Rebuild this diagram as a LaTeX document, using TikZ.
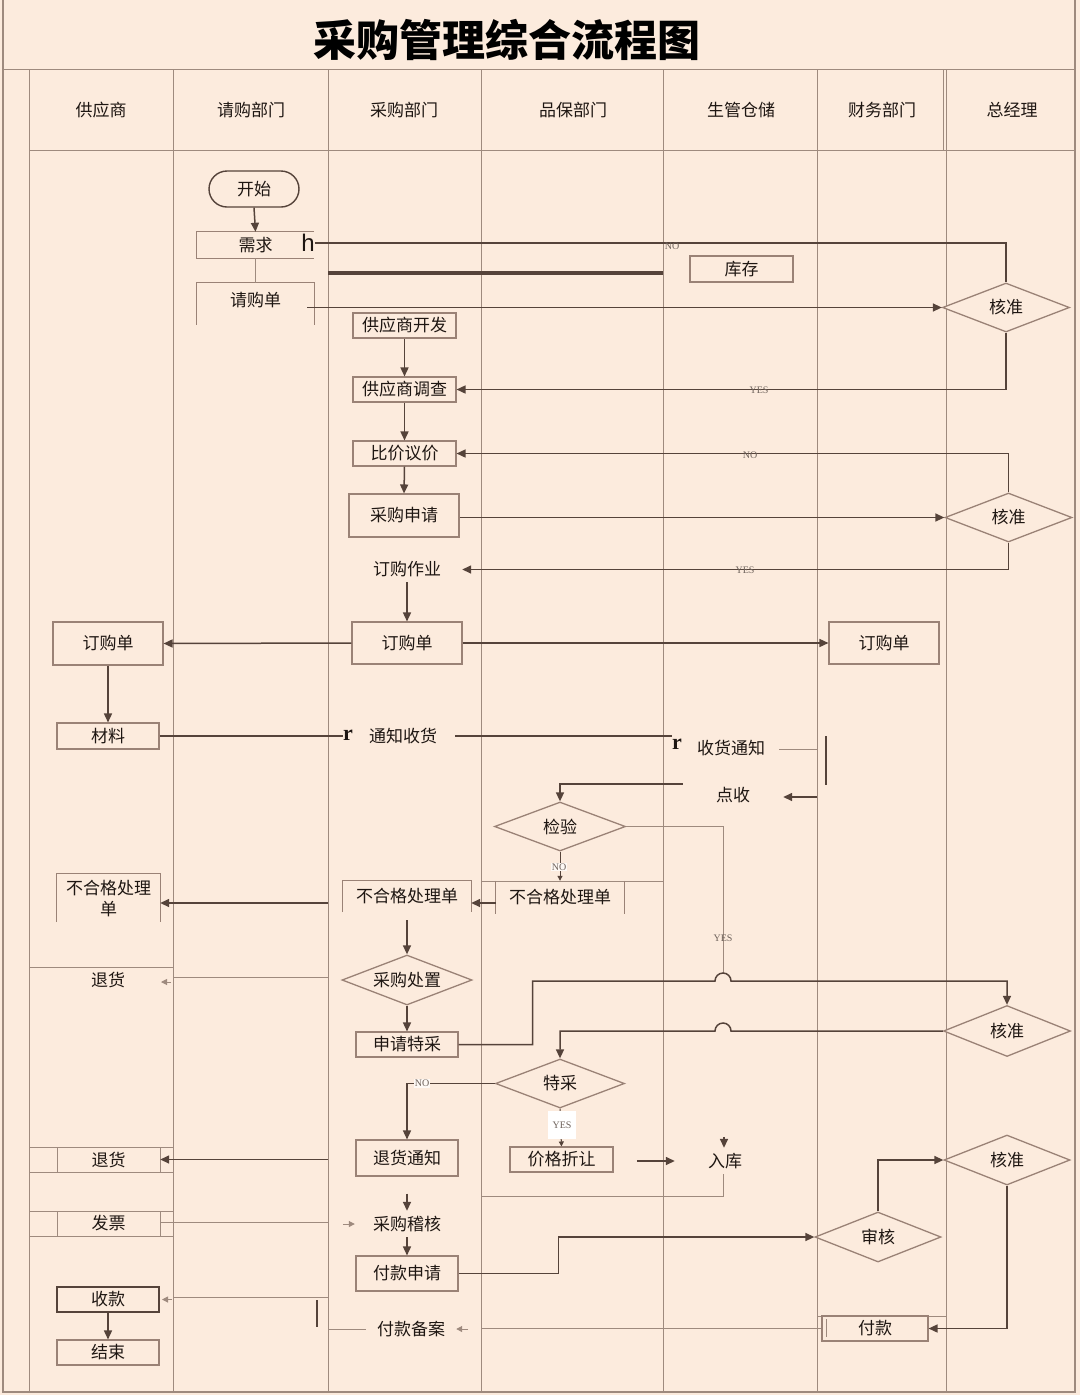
\documentclass[tikz,border=0pt]{standalone}
\usepackage{fontspec}
\setmainfont{Liberation Serif}
\newfontfamily\cjk{Noto Sans CJK SC}
\newfontfamily\sansf{Liberation Sans}
\usetikzlibrary{arrows.meta,shapes.geometric,calc}
\definecolor{bgc}{HTML}{FCEBDD}
\definecolor{lanec}{HTML}{9E8A7E}
\definecolor{linec}{HTML}{55433A}
\definecolor{boxc}{HTML}{9A8276}
\definecolor{txtc}{HTML}{1E1612}
\definecolor{lblc}{HTML}{6E625B}
\newcommand\cnf{\cjk\fontsize{17}{20}\selectfont}
\newcommand\titlef{\cjk\bfseries\fontsize{43}{48}\selectfont}
\newcommand\lblf{\fontsize{10}{11}\selectfont}
\newcommand\tickf{\bfseries\fontsize{22}{24}\selectfont}
\newcommand\hf{\sansf\fontsize{24}{26}\selectfont}
\tikzset{
  laneline/.style={draw=lanec, line width=1pt},
  conn/.style={draw=linec, line width=1.5pt},
  arr/.style={conn, -{Triangle[length=9pt,width=8pt]}},
  arrs/.style={draw=lanec, line width=1pt, -{Triangle[length=6pt,width=6pt]}},
  arrd/.style={draw=linec, line width=1pt, -{Triangle[length=5pt,width=5pt]}},
  boxline/.style={draw=boxc, line width=1.1pt},
  tx/.style={font=\cnf, text=txtc, inner sep=0pt},
  box/.style={tx, draw=boxc, fill=bgc, line width=1.1pt, rectangle},
  dia/.style={tx, draw=boxc, fill=bgc, line width=1.3pt, diamond, aspect=2.6, minimum width=127pt, minimum height=50pt},
  lbl/.style={font=\lblf, text=lblc, inner sep=1pt},
  tickst/.style={font=\tickf, text=txtc, inner sep=0pt},
}
\begin{document}
\begin{tikzpicture}[x=1pt,y=-1pt]
\useasboundingbox (0,0) rectangle (1080,1395);
\fill[bgc] (0,0) rectangle (1080,1395);

% frame and lanes
\draw[laneline, line width=1.6pt] (3,0) -- (3,1392) -- (1075,1392) -- (1075,0);
\draw[laneline] (3,69) -- (1075,69);
\draw[laneline] (29,150) -- (1075,150);
\foreach \x in {29,173,328,481,663,817,946} \draw[laneline] (\x,69) -- (\x,1392);
\draw[laneline] (943,69) -- (943,150);
\draw[laneline] (29,967) -- (173,967);
\draw[laneline] (29,1147) -- (173,1147);
\draw[laneline] (29,1172) -- (173,1172);
\draw[laneline] (57,1147) -- (57,1172);
\draw[laneline] (160,1147) -- (160,1172);
\draw[laneline] (29,1211) -- (173,1211);
\draw[laneline] (29,1236) -- (173,1236);
\draw[laneline] (57,1211) -- (57,1236);
\draw[laneline] (160,1211) -- (160,1236);

% title and headers
\node[font=\titlef, text=black, inner sep=0pt] (title) at (507,40) {采购管理综合流程图};
\node[tx] (h1) at (101,110) {供应商};
\node[tx] (h2) at (251,110) {请购部门};
\node[tx] (h3) at (404,110) {采购部门};
\node[tx] (h4) at (573,110) {品保部门};
\node[tx] (h5) at (741,110) {生管仓储};
\node[tx] (h6) at (882,110) {财务部门};
\node[tx] (h7) at (1012,110) {总经理};

% requesting department
\node[tx, draw=linec, fill=bgc, line width=1.4pt, rounded corners=18pt, minimum width=90pt, minimum height=36pt] (start) at (254,189) {开始};
\node[tx, minimum width=117pt, minimum height=26pt] (need) at (255.5,245) {需求};
\draw[boxline] (need.north east) -- (need.north west) -- (need.south west) -- (need.south east);
\node[font=\hf, text=txtc, inner sep=0pt] (hmark) at (308,243) {h};
\node[tx, minimum width=117pt, minimum height=34pt] (req) at (255.5,300) {请购单};
\draw[boxline] (req.north west) ++(0,42) -- (req.north west) -- (req.north east) -- ++(0,42);
\draw[arr] (start.south) -- (need.north);
\draw[laneline] (need.south) -- (req.north);

\draw[line width=4pt, draw=linec] (328,273) -- (663,273);
\node[box, minimum width=103pt, minimum height=26pt] (stock) at (741.5,269) {库存};

\node[dia, minimum height=49pt] (ok1) at (1006,307.5) {核准};
\draw[conn] (hmark.east) -| (ok1.north);
\node[lbl] (no1) at (672,246) {NO};
\draw[arr] ($(req.east |- ok1.west)+(-7,0)$) -- (ok1.west);

% purchasing department
\node[box, minimum width=103pt, minimum height=25pt] (sdev) at (404.5,325.5) {供应商开发};
\node[box, minimum width=103pt, minimum height=25pt] (sinv) at (404.5,389.5) {供应商调查};
\node[box, minimum width=103pt, minimum height=25pt] (cmp) at (404.5,453.5) {比价议价};
\node[box, minimum width=110pt, minimum height=43pt] (papp) at (404,515.5) {采购申请};
\draw[arr] (sdev.south) -- (sinv.north);
\draw[arr] (sinv.south) -- (cmp.north);
\draw[arr] (cmp.south) -- (papp.north);
\draw[arr] (ok1.south) |- (sinv.east);
\node[lbl] (yes1) at (759,390) {YES};

\node[dia, minimum height=49pt] (ok2) at (1008.5,517.5) {核准};
\draw[arr] (ok2.north) |- (cmp.east);
\node[lbl] (no2) at (750,455) {NO};
\draw[arr] (papp.east |- ok2.west) -- (ok2.west);
\node[tx, minimum width=110pt, minimum height=25pt] (ordop) at (407,569.5) {订购作业};
\draw[arr] (ok2.south) |- (ordop.east);
\node[lbl] (yes2) at (745,570) {YES};

\node[box, minimum width=110pt, minimum height=42pt] (po) at (407,643) {订购单};
\node[box, minimum width=110pt, minimum height=43pt] (spo) at (108,643.5) {订购单};
\node[box, minimum width=110pt, minimum height=42pt] (fpo) at (884,643) {订购单};
\draw[arr] (ordop.south) -- (po.north);
\draw[arr] (po.west) -- (spo.east);
\draw[arr] (po.east) -- (fpo.west);
\node[box, minimum width=102pt, minimum height=26pt] (mat) at (108,736) {材料};
\draw[arr] (spo.south) -- (mat.north);

% receiving
\node[tickst] (tick1) at (348,735) {r};
\node[tickst] (tick2) at (677,744) {r};
\node[tx, minimum width=104pt, minimum height=24pt] (notify) at (403,736) {通知收货};
\draw[conn] (mat.east) -- (mat.east -| tick1.west);
\draw[conn] (notify.east) -- (notify.east -| tick2.west);
\node[tx, minimum width=96pt, minimum height=22pt] (rcvn) at (731,748) {收货通知};
\coordinate (f1) at (817,749);
\draw[laneline] (rcvn.east |- f1) -- (f1);
\coordinate (vb1) at (826,736);
\coordinate (vb2) at (826,785);
\draw[conn] (vb1) -- (vb2);
\node[tx, minimum width=100pt, minimum height=22pt] (chk) at (733,795) {点收};
\coordinate (f2) at (817,797);
\draw[arr] (f2) -- (chk.east |- f2);

\node[dia, minimum width=131pt, minimum height=49pt] (insp) at (560,826.5) {检验};
\draw[arr] (chk.north west) -| (insp.north);

\coordinate (q1) at (481,881);
\coordinate (q2) at (663,881);
\draw[laneline] (q1) -- (q2);
\node[tx, minimum width=128pt, minimum height=33pt] (qnc) at (560,897.5) {不合格处理单};
\draw[boxline] (qnc.north west) -- (qnc.south west);
\draw[boxline] (qnc.north east) -- (qnc.south east);
\draw[arrd] (insp.south) -- (qnc.north);
\node[lbl, fill=white!70!bgc] (no3) at (559,867) {NO};

\coordinate (yj) at (723,973);
\draw[laneline] (insp.east) -| (yj);
\node[lbl] (yes3) at (723,938) {YES};

\node[tx, minimum width=128pt, minimum height=31pt] (pnc) at (407,896.5) {不合格处理单};
\draw[boxline] (pnc.south west) -- (pnc.north west) -- (pnc.north east) -- (pnc.south east);
\draw[arr] ($(qnc.west)+(0,5.5)$) -- ($(pnc.east)+(0,6.5)$);

\node[tx, minimum width=103pt, minimum height=48pt, align=center] (snc) at (108.5,898) {不合格处理\\[1pt]单};
\draw[boxline] (snc.south west) -- (snc.north west) -- (snc.north east) -- (snc.south east);
\coordinate (p3) at (328,903);
\draw[arr] (p3) -- (snc.east |- p3);

\node[dia, minimum width=130pt, minimum height=50pt] (pdisp) at (407,980) {采购处置};
\draw[arr] ($(pnc.south)+(0,8)$) -- (pdisp.north);

\node[tx] (ret1) at (108,980) {退货};
\coordinate (p4) at (328,977);
\coordinate (p5) at (173,977);
\draw[laneline] (p4) -- (p5);
\coordinate (t1a) at (171,982);
\coordinate (t1b) at (161,982);
\draw[arrs] (t1a) -- (t1b);

\node[box, minimum width=102pt, minimum height=25pt] (spec) at (407,1044.5) {申请特采};
\draw[arr] (pdisp.south) -- (spec.north);

\coordinate (j1) at (723,981);
\coordinate (j2) at (723,1031);
\node[dia, minimum height=51pt] (ok3) at (1007,1031) {核准};
\node[dia, minimum width=129pt, minimum height=49pt] (tc) at (560,1083.5) {特采};
\draw[arr] (spec.east) -- ++(74,0) |- ($(j1)+(-8,0)$) arc[start angle=180,end angle=360,radius=8] -- (ok3.north |- j1) -- (ok3.north);
\draw[arr] (ok3.west) -- ($(j2)+(8,0)$) arc[start angle=0,end angle=-180,radius=8] -- (tc.north |- j2) -- (tc.north);

\node[box, minimum width=102pt, minimum height=36pt] (retn) at (407,1158) {退货通知};
\draw[arr] (tc.west) -| (retn.north);
\node[lbl, fill=white!70!bgc] (no4) at (422,1083.5) {NO};

\node[box, minimum width=103pt, minimum height=25pt] (disc) at (561.5,1159.5) {价格折让};
\draw[arrd] (tc.south) -- (disc.north);
\node[lbl, fill=white, minimum width=28pt, minimum height=28pt] (yes4) at (562,1125) {YES};

\node[tx, minimum width=100pt, minimum height=26pt] (instk) at (725,1161) {入库};
\draw[arr] ($(instk.west)+(-38,0)$) -- (instk.west);
\draw[arr] ($(instk.north)+(-1,-11)$) -- ($(instk.north)+(-1,0)$);
\coordinate (c5) at (481,1196);
\draw[laneline] ($(instk.south)+(-2,0)$) |- (c5);

\node[tx, minimum width=103pt] (ret2) at (108.5,1159.5) {退货};
\coordinate (p6) at (328,1159.5);
\draw[arr] (p6) -- (ret2.east);

\node[tx, minimum width=103pt] (inv) at (108.5,1223.5) {发票};
\coordinate (p7) at (328,1222);
\draw[laneline] (inv.east |- p7) -- (p7);
\node[tx, minimum width=104pt, minimum height=26pt] (aud) at (407,1224) {采购稽核};
\draw[arrs] ($(aud.west)+(-12,0)$) -- (aud.west);
\draw[arr] ($(retn.south)+(0,17)$) -- (aud.north);

\node[box, minimum width=102pt, minimum height=35pt] (payr) at (407,1273.5) {付款申请};
\draw[arr] (aud.south) -- (payr.north);
\node[dia, minimum width=126pt, minimum height=50pt] (rev) at (878,1237) {审核};
\draw[arr] (payr.east) -- ++(100,0) |- (rev.west);
\node[dia, minimum width=126pt, minimum height=50pt] (ok4) at (1007,1160) {核准};
\draw[arr] (rev.north) |- (ok4.west);

\draw[laneline] (817,1316) -- (947,1316);
\node[box, minimum width=106pt, minimum height=25pt] (pay) at (875,1328.5) {付款};
\draw[laneline] (826,1319) -- (826,1337);
\draw[arr] (ok4.south) |- (pay.east);
\coordinate (p8) at (481,1329);
\draw[laneline] (pay.west) -- (pay.west -| p8);
\node[tx, minimum width=90pt, minimum height=24pt] (prec) at (411,1329) {付款备案};
\draw[arrs] ($(prec.east)+(12,0)$) -- (prec.east);
\coordinate (p9) at (328,1329);
\draw[laneline] (prec.west) -- (p9);
\coordinate (v1) at (317,1300);
\coordinate (v2) at (317,1327);
\draw[conn] (v1) -- (v2);
\coordinate (p10) at (328,1297);
\coordinate (p11) at (173,1297);
\draw[laneline] (p10) -- (p11);

\node[box, draw=linec, line width=2pt, minimum width=102pt, minimum height=25pt] (rcv) at (108,1299.5) {收款};
\draw[arrs] ($(rcv.east)+(12,0)$) -- ($(rcv.east)+(2,0)$);
\node[box, minimum width=102pt, minimum height=25pt] (fin) at (108,1352.5) {结束};
\draw[arr] (rcv.south) -- (fin.north);
\end{tikzpicture}
\end{document}
